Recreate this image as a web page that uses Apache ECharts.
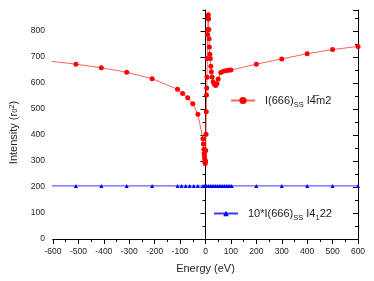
<!DOCTYPE html>
<html>
<head>
<meta charset="utf-8">
<script src="https://cdn.jsdelivr.net/npm/echarts@6/dist/echarts.min.js"></script>
<style>html,body{margin:0;padding:0;background:#fff}#c{width:374px;height:281px}</style>
</head>
<body>
<div id="c"></div>
<script>
var redEnergy = [-610, -510, -410, -310, -210, -110, -90, -70, -50, -30, -10, -8, -6, -5, -4, -3, -2, -1, 0, 1, 2, 3, 4, 5, 6, 7, 8, 9, 10, 11, 12, 13, 14, 15, 17, 19, 21, 23, 26, 30, 35, 40, 45, 50, 60, 70, 80, 90, 100, 200, 300, 400, 500, 600];
var redIntensity = [683, 672, 658, 641, 616, 575, 559, 543, 520, 479, 385, 365, 345, 330, 318, 306, 296, 290, 300, 340, 403, 489, 553, 580, 622, 694, 786, 805, 850, 862, 845, 805, 770, 738, 710, 694, 664, 643, 623, 604, 595, 590, 598, 615, 640, 645, 647, 648, 649, 672, 692, 712, 728, 740];
var blueEnergy = [-610, -510, -410, -310, -210, -110, -94, -78, -62, -46, -30, -10, -3, 5, 12, 19, 26, 33, 40, 47, 54, 61, 68, 75, 82, 89, 96, 103, 200, 300, 400, 500, 600];
var blueIntensity = [204, 204, 204, 204, 204, 204, 204, 204, 204, 204, 204, 204, 204, 204, 204, 204, 204, 204, 204, 204, 204, 204, 204, 204, 204, 204, 204, 204, 204, 204, 204, 204, 204];
var xTicks = [-600, -500, -400, -300, -200, -100, 0, 100, 200, 300, 400, 500, 600];
var yTicks = [0, 100, 200, 300, 400, 500, 600, 700, 800];
var redName = 'I(666)SS I-4m2';
var blueName = '10*I(666)SS I4122';

var FONT = 'Liberation Sans, Arial, sans-serif';
function pairs(xs, ys) { return xs.map(function (x, i) { return [x, ys[i]]; }); }

var chart = echarts.init(document.getElementById('c'), null, {renderer: 'canvas'});
var axisLine = {show: true, lineStyle: {color: '#000', width: 1}};
var xCommon = {type: 'value', min: xTicks[0], max: xTicks[xTicks.length - 1], interval: 100, splitLine: {show: false}, axisLine: axisLine};
var yCommon = {type: 'value', min: yTicks[0], max: 880, splitLine: {show: false}, axisLine: axisLine};

chart.setOption({
  animation: false,
  textStyle: {fontFamily: FONT},
  grid: {left: 50, right: 16, top: 10, bottom: 42, containLabel: false},
  xAxis: [
    Object.assign({}, xCommon, {
      position: 'bottom',
      name: 'Energy (eV)', nameLocation: 'middle', nameGap: 24,
      nameTextStyle: {fontSize: 11, color: '#222', fontFamily: FONT},
      axisTick: {show: true, inside: false, length: 5, lineStyle: {color: '#000'}},
      minorTick: {show: true, splitNumber: 2, length: 3, lineStyle: {color: '#000'}},
      axisLabel: {fontSize: 8.5, color: '#222', margin: 8, fontFamily: FONT}
    }),
    Object.assign({}, xCommon, {
      position: 'top',
      axisTick: {show: true, inside: true, length: 5, lineStyle: {color: '#000'}},
      minorTick: {show: true, splitNumber: 2, length: 3, lineStyle: {color: '#000'}},
      axisLabel: {show: false}
    })
  ],
  yAxis: [
    Object.assign({}, yCommon, {
      position: 'left', interval: 100,
      name: 'Intensity (r{sub|0}{sup|2})', nameLocation: 'middle', nameGap: 34,
      nameTextStyle: {fontSize: 11, color: '#222', fontFamily: FONT, padding: [0, 16, 0, 0],
        rich: {sub: {fontSize: 7.5, verticalAlign: 'bottom', color: '#222', fontFamily: FONT},
               sup: {fontSize: 7.5, verticalAlign: 'top', color: '#222', fontFamily: FONT}}},
      axisTick: {show: true, inside: false, length: 5, lineStyle: {color: '#000'}},
      axisLabel: {fontSize: 8.5, color: '#222', margin: 8, showMaxLabel: false, fontFamily: FONT}
    }),
    Object.assign({}, yCommon, {
      position: 'left', interval: 50,
      axisLine: {show: false},
      axisTick: {show: true, inside: false, length: 3, lineStyle: {color: '#000'}},
      axisLabel: {show: false}
    }),
    Object.assign({}, yCommon, {
      position: 'right', interval: 100,
      axisTick: {show: true, inside: true, length: 5, lineStyle: {color: '#000'}},
      axisLabel: {show: false}
    }),
    Object.assign({}, yCommon, {
      position: 'right', interval: 50,
      axisLine: {show: false},
      axisTick: {show: true, inside: true, length: 3, lineStyle: {color: '#000'}},
      axisLabel: {show: false}
    })
  ],
  legend: [
    {
      data: [redName], left: 230, top: 95, padding: 0, itemWidth: 24, itemHeight: 9,
      formatter: function () { return 'I(666){sub|SS} I4\u0305m2'; },
      textStyle: {fontSize: 11, color: '#222', fontFamily: FONT, padding: [0, 0, 0, 5],
        rich: {sub: {fontSize: 7.5, verticalAlign: 'bottom', color: '#222', fontFamily: FONT, padding: [0, 0, -3, 0]}}}
    },
    {
      data: [blueName], left: 213, top: 208, padding: 0, itemWidth: 24, itemHeight: 7,
      formatter: function () { return '10*I(666){sub|SS} I4{sub|1}22'; },
      textStyle: {fontSize: 11, color: '#222', fontFamily: FONT, padding: [0, 0, 0, 5],
        rich: {sub: {fontSize: 7.5, verticalAlign: 'bottom', color: '#222', fontFamily: FONT, padding: [0, 0, -3, 0]}}}
    }
  ],
  series: [
    {
      name: redName, type: 'line', xAxisIndex: 0, yAxisIndex: 0,
      data: pairs(redEnergy, redIntensity),
      symbol: 'circle', symbolSize: 5, clip: true,
      itemStyle: {color: '#ff0000'},
      lineStyle: {color: '#ff6060', width: 1}
    },
    {
      name: blueName, type: 'line', xAxisIndex: 0, yAxisIndex: 0,
      data: pairs(blueEnergy, blueIntensity),
      symbol: 'triangle', symbolSize: 4, clip: true,
      itemStyle: {color: '#0000ff'},
      lineStyle: {color: '#3a3aff', width: 1}
    }
  ]
});
</script>
</body>
</html>
